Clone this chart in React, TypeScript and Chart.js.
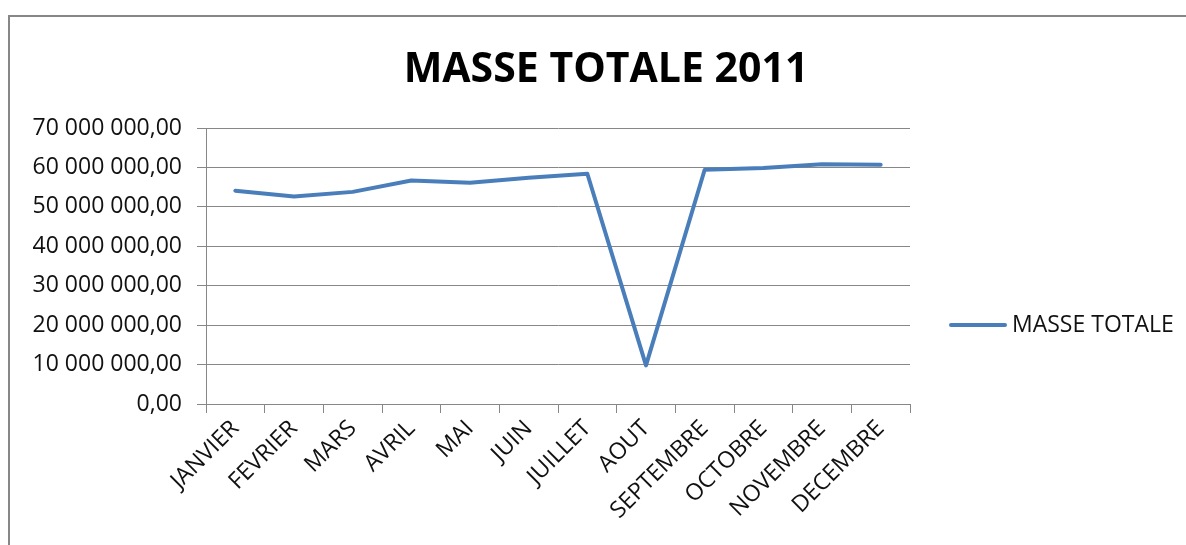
import React, { useEffect, useRef } from "react";
import { Chart, registerables } from "chart.js";

Chart.register(...registerables);

const months = [
  "JANVIER", "FEVRIER", "MARS", "AVRIL", "MAI", "JUIN",
  "JUILLET", "AOUT", "SEPTEMBRE", "OCTOBRE", "NOVEMBRE", "DECEMBRE",
];
const masseTotale = [
  54100000, 52600000, 53800000, 56700000, 56100000, 57400000,
  58400000, 9800000, 59400000, 59850000, 60800000, 60700000,
];
const seriesName = "MASSE TOTALE";
const chartTitle = "MASSE TOTALE 2011";
const yMin = 0;
const yMax = 70000000;
const yStep = 10000000;

const FONT = "'Open Sans', 'Liberation Sans', sans-serif";
const GRID = "#878787";
const LINE = "#4a7ebb";

function fmt(v: number): string {
  const s = Math.round(v).toString().replace(/\B(?=(\d{3})+(?!\d))/g, " ");
  return s + ",00";
}

// Title (centred on the whole chart box) and right-hand legend
const titleAndLegend = {
  id: "titleAndLegend",
  afterDraw(chart: any) {
    const { ctx, chartArea } = chart;
    const ds = chart.data.datasets[0];
    ctx.save();
    // title
    ctx.fillStyle = "#000";
    ctx.font = `bold 41px ${FONT}`;
    ctx.textAlign = "center";
    ctx.textBaseline = "alphabetic";
    ctx.fillText(chartTitle, chart.width / 2, 65);
    // legend
    const y = chartArea.top + 197;
    const x0 = chartArea.right + 41;
    ctx.strokeStyle = ds.borderColor;
    ctx.lineWidth = 4;
    ctx.lineCap = "round";
    ctx.beginPath();
    ctx.moveTo(x0, y);
    ctx.lineTo(x0 + 54, y);
    ctx.stroke();
    ctx.fillStyle = "#111";
    ctx.font = `23px ${FONT}`;
    ctx.textBaseline = "middle";
    ctx.textAlign = "left";
    ctx.fillText(ds.label, x0 + 61, y);
    ctx.restore();
  },
};

export default function App() {
  const ref = useRef<HTMLCanvasElement | null>(null);
  useEffect(() => {
    if (!ref.current) return;
    const chart = new Chart(ref.current, {
      type: "line",
      data: {
        labels: months,
        datasets: [
          {
            label: seriesName,
            data: masseTotale,
            borderColor: LINE,
            backgroundColor: LINE,
            borderWidth: 4,
            pointRadius: 0,
            pointHoverRadius: 0,
            tension: 0,
            borderCapStyle: "round",
            borderJoinStyle: "round",
          },
        ],
      },
      options: {
        responsive: false,
        animation: false,
        layout: { padding: { top: 111, left: 10, right: 292, bottom: 11 } },
        plugins: {
          legend: { display: false },
          tooltip: { enabled: false },
          title: { display: false },
        },
        scales: {
          x: {
            offset: true,
            grid: {
              offset: true,
              drawOnChartArea: false,
              drawTicks: true,
              tickLength: 9,
              color: GRID,
              lineWidth: 1,
            },
            border: { display: true, color: GRID, width: 1 },
            ticks: {
              autoSkip: false,
              minRotation: 45,
              maxRotation: 45,
              color: "#111",
              padding: 2,
              font: { family: FONT, size: 23 },
            },
            afterFit: (scale: any) => {
              scale.height = 130;
            },
          },
          y: {
            min: yMin,
            max: yMax,
            grid: {
              color: GRID,
              lineWidth: 1,
              tickLength: 9,
              drawTicks: true,
            },
            border: { display: true, color: GRID, width: 1 },
            ticks: {
              stepSize: yStep,
              color: "#111",
              padding: 15,
              font: { family: FONT, size: 23 },
              callback: (v: any) => fmt(Number(v)),
            },
            afterFit: (scale: any) => {
              scale.width = 186;
            },
          },
        },
      },
      plugins: [titleAndLegend],
    });
    return () => chart.destroy();
  }, []);

  return (
    <div
      style={{
        position: "fixed",
        left: 8,
        top: 15,
        width: 1200,
        height: 540,
        borderTop: `2px solid ${GRID}`,
        borderLeft: `2px solid ${GRID}`,
        overflow: "hidden",
        background: "#fff",
      }}
    >
      <canvas ref={ref} width={1192} height={528} style={{ display: "block" }} />
    </div>
  );
}
